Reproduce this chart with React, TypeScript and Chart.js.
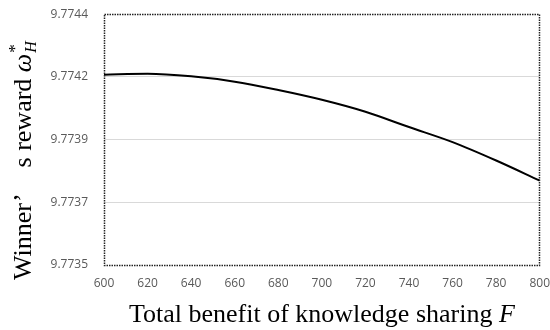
import React, { useEffect, useRef } from "react";
import { Chart, registerables } from "chart.js";

Chart.register(...registerables);

// Total benefit of knowledge sharing F
const xValues = [600, 620, 640, 660, 680, 700, 720, 740, 760, 780, 800];
// Winner's optimal reward ω*_H for each F
const winnerReward = [
  9.774183, 9.774186, 9.774177, 9.774158, 9.774128, 9.774093, 9.77405,
  9.773995, 9.773941, 9.773875, 9.773803,
];
const yTickValues = [9.7735, 9.773725, 9.77395, 9.774175, 9.7744];
const yTickLabels = ["9.7735", "9.7737", "9.7739", "9.7742", "9.7744"];

const SERIF = '"Liberation Serif", "Times New Roman", serif';
const OFFSET_TOP = 9;

const axisTitles = {
  id: "axisTitles",
  afterDraw(chart: any) {
    const { ctx, chartArea } = chart;
    ctx.save();
    ctx.fillStyle = "#000";
    ctx.textBaseline = "alphabetic";
    ctx.textAlign = "left";

    // x-axis title: "Total benefit of knowledge sharing F"
    const fs = 26;
    ctx.font = `${fs}px ${SERIF}`;
    const xa = "Total benefit of knowledge sharing ";
    const wa = ctx.measureText(xa).width;
    ctx.font = `italic ${fs}px ${SERIF}`;
    const wf = ctx.measureText("F").width;
    const x = (chartArea.left + chartArea.right) / 2 - (wa + wf) / 2;
    const yb = chartArea.bottom + 57;
    ctx.font = `${fs}px ${SERIF}`;
    ctx.fillText(xa, x, yb);
    ctx.font = `italic ${fs}px ${SERIF}`;
    ctx.fillText("F", x + wa, yb);

    // y-axis title: "Winner’ s reward ω*_H", rotated
    ctx.translate(31, chartArea.bottom + 15);
    ctx.rotate(-Math.PI / 2);
    let p = 0;
    ctx.font = `${fs}px ${SERIF}`;
    ctx.fillText("Winner’", p, 0);
    p += ctx.measureText("Winner’").width + fs;
    ctx.fillText("s reward ", p, 0);
    p += ctx.measureText("s reward ").width;
    ctx.font = `italic ${fs}px ${SERIF}`;
    ctx.fillText("ω", p, 0);
    p += ctx.measureText("ω").width + 1;
    ctx.font = `17px ${SERIF}`;
    ctx.fillText("*", p, -11);
    ctx.font = `italic 16px ${SERIF}`;
    ctx.fillText("H", p, 5);
    ctx.restore();
  },
};

const dottedFrame = {
  id: "dottedFrame",
  afterDraw(chart: any) {
    const { ctx, chartArea } = chart;
    ctx.save();
    ctx.strokeStyle = "#222";
    ctx.lineWidth = 1.5;
    ctx.setLineDash([1.5, 1]);
    ctx.strokeRect(
      Math.round(chartArea.left) + 0.5,
      Math.round(chartArea.top) + 0.5,
      Math.round(chartArea.right - chartArea.left) - 1,
      Math.round(chartArea.bottom - chartArea.top)
    );
    ctx.restore();
  },
};

export default function App() {
  const canvasRef = useRef<HTMLCanvasElement | null>(null);

  useEffect(() => {
    if (!canvasRef.current) return;
    const tickFont = { family: '"Open Sans", "Noto Sans", sans-serif', size: 12 };
    const chart = new Chart(canvasRef.current, {
      type: "line",
      data: {
        datasets: [
          {
            data: xValues.map((v, i) => ({ x: v, y: winnerReward[i] })),
            borderColor: "#000",
            borderWidth: 2,
            pointRadius: 0,
            cubicInterpolationMode: "monotone",
            fill: false,
          },
        ],
      },
      options: {
        animation: false,
        responsive: true,
        maintainAspectRatio: false,
        layout: { padding: { top: 5, right: 0, left: 0, bottom: 0 } },
        plugins: {
          legend: { display: false },
          tooltip: { enabled: false },
          title: { display: false },
        },
        scales: {
          x: {
            type: "linear",
            min: 600,
            max: 800,
            afterBuildTicks: (scale: any) => {
              scale.ticks = xValues.map((v) => ({ value: v }));
            },
            afterFit: (scale: any) => {
              scale.height = 65;
            },
            grid: { display: false, drawTicks: false },
            border: { display: false },
            ticks: {
              color: "#595959",
              font: tickFont,
              padding: 11,
              maxRotation: 0,
              autoSkip: false,
              callback: (v: any) => String(v),
            },
          },
          y: {
            type: "linear",
            min: 9.7735,
            max: 9.7744,
            afterBuildTicks: (scale: any) => {
              scale.ticks = yTickValues.map((v) => ({ value: v }));
            },
            afterFit: (scale: any) => {
              scale.width = 104;
            },
            grid: {
              drawTicks: false,
              color: (c: any) =>
                c.index === 0 || c.index === yTickValues.length - 1
                  ? "rgba(0,0,0,0)"
                  : "#d9d9d9",
              lineWidth: 1,
            },
            border: { display: false },
            ticks: {
              color: "#595959",
              font: tickFont,
              padding: 16,
              autoSkip: false,
              callback: (_v: any, i: number) => yTickLabels[i],
            },
          },
        },
      },
      plugins: [dottedFrame, axisTitles],
    });
    return () => chart.destroy();
  }, []);

  return (
    <div
      style={{
        position: "fixed",
        left: 0,
        top: -OFFSET_TOP,
        width: 561,
        height: 330 + OFFSET_TOP,
        background: "#fff",
      }}
    >
      <canvas ref={canvasRef} />
    </div>
  );
}
